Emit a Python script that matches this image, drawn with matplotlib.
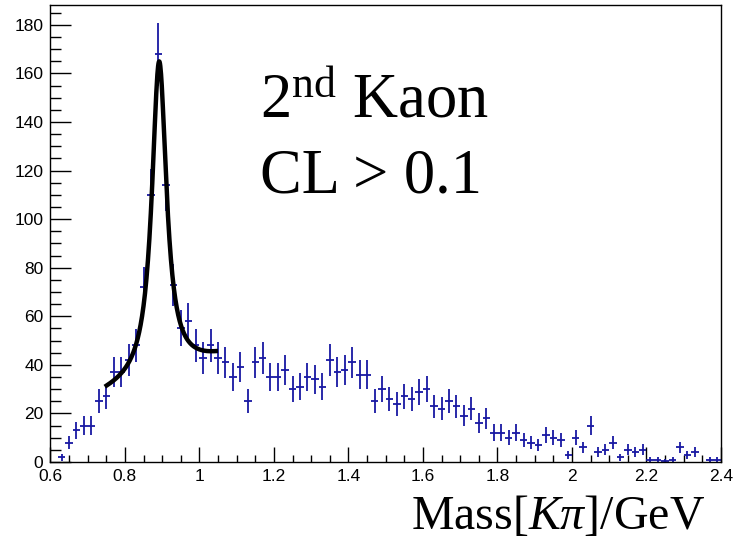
import numpy as np
import matplotlib
matplotlib.use("Agg")
import matplotlib.pyplot as plt

plt.rcParams['font.family'] = ['Liberation Sans', 'DejaVu Sans']
plt.rcParams['mathtext.fontset'] = 'custom'
plt.rcParams['mathtext.rm'] = 'Liberation Serif'
plt.rcParams['mathtext.it'] = 'Liberation Serif:italic'

# bin centres (width 0.02 GeV) and counts
mass = np.round(np.arange(0.61, 2.40, 0.02), 2)
counts = [0, 2, 8, 13, 15, 15, 25, 27, 37, 37,
          42, 48, 72, 110, 168, 114, 73, 55, 58, 48,
          43, 48, 43, 41, 35, 39, 25, 41, 43, 35,
          35, 38, 30, 31, 35, 34, 31, 42, 37, 38,
          41, 36, 36, 25, 30, 26, 24, 27, 26, 29,
          30, 23, 22, 25, 23, 19, 22, 16, 18, 12,
          12, 10, 12, 9, 8, 7, 11, 10, 9, 3,
          10, 6, 15, 4, 5, 8, 2, 5, 4, 5,
          1, 1, 0.5, 1, 6, 3, 4, 0, 1, 1]

# Breit-Wigner + linear background fit, parameters
bw_mass = 0.892
bw_width = 0.0474
bw_amp = 130.0
bkg_c0 = 35.0
bkg_c1 = 50.0
fit_range = (0.751, 1.044)

mass = np.array(mass)
counts = np.array(counts, dtype=float)
keep = counts > 0

fig = plt.figure(figsize=(7.41, 5.40), dpi=100)
ax = fig.add_axes([0.068, 0.1444, 0.905, 0.8463])

ax.errorbar(mass[keep], counts[keep], xerr=0.01, yerr=np.sqrt(counts[keep]),
            fmt='none', ecolor='#1818a2', elinewidth=1.3, capsize=0, zorder=2)

m = np.linspace(fit_range[0], fit_range[1], 300)
g = bw_width / 2
fit = bw_amp * g**2 / ((m - bw_mass)**2 + g**2) + bkg_c0 + bkg_c1 * (m - bw_mass)
ax.plot(m, fit, color='black', linewidth=3.2, zorder=3)

ax.set_xlim(0.6, 2.4)
ax.set_ylim(0, 188.2)
ax.set_xticks(np.arange(0.6, 2.41, 0.2))
ax.set_xticklabels(['0.6', '0.8', '1', '1.2', '1.4', '1.6', '1.8', '2', '2.2', '2.4'])
ax.set_xticks(np.arange(0.6, 2.41, 0.05), minor=True)
ax.set_yticks(np.arange(0, 181, 20))
ax.set_yticks(np.arange(0, 186, 5), minor=True)

ax.tick_params(axis='both', which='both', direction='in', labelsize=12.5,
               top=False, right=False)
ax.tick_params(axis='x', which='major', length=10.5, width=1, pad=5)
ax.tick_params(axis='x', which='minor', length=5.3, width=1)
ax.tick_params(axis='y', which='major', length=15, width=1, pad=5)
ax.tick_params(axis='y', which='minor', length=8, width=1)
for s in ax.spines.values():
    s.set_linewidth(1)

fig.text(0.351, 0.783, r'$2^{\mathrm{nd}}$ Kaon', fontsize=45,
         family='Liberation Serif', va='baseline', ha='left')
fig.text(0.351, 0.6426, 'CL > 0.1', fontsize=45,
         family='Liberation Serif', va='baseline', ha='left')
fig.text(0.951, 0.0204, r'Mass$[K\pi]$/GeV', fontsize=34.5,
         family='Liberation Serif', va='baseline', ha='right')

fig.savefig('out.png', dpi=100)
